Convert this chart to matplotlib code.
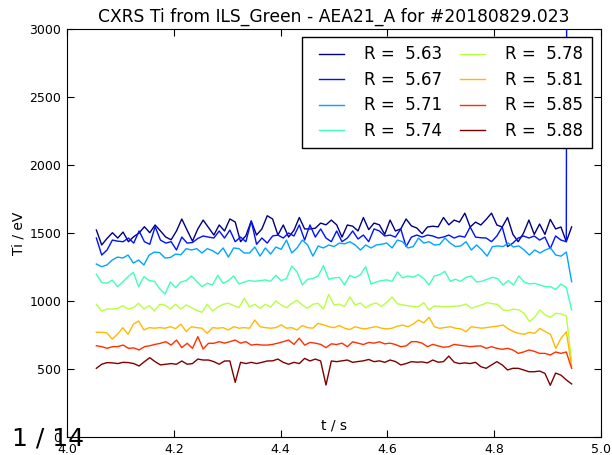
import numpy as np
import matplotlib
matplotlib.use('Agg')
import matplotlib.pyplot as plt
from matplotlib.lines import Line2D
from matplotlib.legend_handler import HandlerLine2D

# time window of the profiles (s)
t_start, t_end = 4.055, 4.945

radii = [5.63, 5.67, 5.71, 5.74, 5.78, 5.81, 5.85, 5.88]

ti_563 = [1522, 1412, 1460, 1502, 1463, 1507, 1436, 1473, 1500, 1546, 1502, 1559, 1515, 1470, 1450, 1515, 1603, 1520, 1440, 1530, 1595, 1540, 1485,
          1559, 1515, 1603, 1581, 1436, 1480, 1588, 1485, 1530, 1627, 1603, 1485, 1559, 1470, 1520, 1614, 1530, 1530, 1535, 1573, 1560, 1595,
          1560, 1470, 1559, 1550, 1515, 1614, 1525, 1573, 1560, 1490, 1595, 1515, 1530, 1603, 1552, 1537, 1495, 1544, 1550, 1545, 1614, 1560,
          1595, 1580, 1646, 1544, 1580, 1559, 1600, 1646, 1559, 1544, 1614, 1490, 1436, 1500, 1595, 1490, 1566, 1490, 1600, 1530, 1544, 1436, 1545]
ti_567 = [1463, 1338, 1375, 1448, 1440, 1436, 1463, 1426, 1515, 1436, 1417, 1546, 1448, 1426, 1436, 1375, 1470, 1426, 1430, 1460, 1478, 1470, 1463,
          1515, 1463, 1522, 1436, 1470, 1436, 1588, 1417, 1463, 1426, 1478, 1485, 1463, 1500, 1478, 1559, 1448, 1559, 1470, 1530, 1463, 1436,
          1515, 1436, 1463, 1515, 1456, 1485, 1436, 1530, 1515, 1478, 1485, 1470, 1530, 1400, 1470, 1485, 1470, 1485, 1478, 1463, 1470, 1485,
          1463, 1478, 1470, 1544, 1470, 1465, 1463, 1436, 1478, 1544, 1400, 1426, 1463, 1478, 1463, 1478, 1448, 1470, 1385, 1478, 1448, 1436, 25000]
ti_571 = [1272, 1252, 1265, 1301, 1323, 1316, 1338, 1279, 1301, 1265, 1338, 1360, 1355, 1316, 1320, 1345, 1340, 1385, 1375, 1385, 1353, 1385, 1370,
          1345, 1390, 1323, 1390, 1385, 1353, 1353, 1397, 1330, 1390, 1345, 1397, 1380, 1448, 1353, 1390, 1448, 1412, 1330, 1404, 1390, 1412,
          1400, 1426, 1420, 1436, 1412, 1375, 1412, 1390, 1412, 1417, 1426, 1390, 1448, 1436, 1390, 1400, 1463, 1426, 1436, 1412, 1415, 1463,
          1426, 1400, 1405, 1436, 1375, 1412, 1375, 1330, 1400, 1405, 1400, 1426, 1397, 1405, 1375, 1338, 1375, 1353, 1375, 1390, 1338, 1330, 1360, 1142]
ti_574 = [1196, 1137, 1130, 1154, 1105, 1140, 1179, 1211, 1105, 1179, 1150, 1145, 1090, 1051, 1140, 1098, 1140, 1150, 1184, 1143, 1105, 1130, 1118,
          1189, 1130, 1150, 1184, 1125, 1140, 1150, 1145, 1150, 1155, 1145, 1189, 1150, 1165, 1257, 1213, 1118, 1160, 1165, 1184, 1260, 1160,
          1170, 1174, 1118, 1189, 1170, 1194, 1252, 1125, 1140, 1150, 1155, 1145, 1213, 1170, 1184, 1175, 1194, 1165, 1118, 1184, 1194, 1218,
          1145, 1160, 1145, 1174, 1184, 1140, 1145, 1160, 1174, 1165, 1118, 1150, 1118, 1184, 1140, 1125, 1130, 1118, 1105, 1105, 1085, 1125, 1098, 934]
ti_578 = [976, 926, 941, 941, 945, 966, 941, 950, 983, 941, 966, 926, 976, 970, 941, 976, 941, 971, 951, 930, 917, 976, 926,
          956, 976, 983, 966, 951, 1020, 956, 976, 946, 976, 956, 1000, 971, 951, 983, 1005, 971, 946, 976, 983, 941, 1049, 971,
          976, 960, 1030, 970, 985, 950, 975, 985, 960, 990, 1030, 980,
          971, 965, 960, 958, 988, 934, 965, 960, 958, 960, 962, 965, 978, 946, 960, 971, 988, 980, 975, 934,
          930, 940, 935, 910, 848, 880, 934, 897, 880, 910, 905, 890, 560]
ti_581 = [770, 770, 765, 720, 755, 804, 755, 829, 853, 787, 804, 800, 804, 800, 811, 797, 829, 776, 811, 804, 800, 762, 804,
          800, 804, 787, 811, 800, 804, 800, 860, 811, 804, 800, 804, 825, 800, 804, 787, 820, 804, 800, 836, 825, 811, 804,
          820, 800, 790, 811, 800, 795, 805, 811, 800, 795, 800, 815,
          823, 811, 830, 860, 840, 880, 811, 799, 805, 811, 800, 795, 774, 811, 805, 800, 805, 811, 815, 823,
          795, 774, 762, 755, 770, 762, 799, 775, 755, 652, 726, 774, 520]
ti_585 = [671, 664, 652, 664, 665, 676, 652, 655, 640, 664, 671, 681, 689, 701, 676, 713, 657, 689, 652, 738, 647,
          689, 689, 701, 690, 701, 713, 690, 701, 676, 681, 676, 676, 681, 690, 701, 713, 681, 726, 676, 695, 690, 681, 657, 685,
          680, 690, 664, 700, 690, 680, 695, 690, 700, 685, 690, 680,
          664, 670, 701, 701, 690, 664, 681, 670, 660, 664, 681, 675, 670, 664, 668, 670, 652, 664, 652, 645,
          652, 640, 615, 625, 640, 630, 615, 615, 603, 625, 615, 625, 505]
ti_588 = [505, 535, 547, 545, 540, 549, 547, 540, 522, 554, 583, 554, 530, 535, 540, 535, 559, 535, 540, 573, 566,
          566, 554, 535, 559, 559, 402, 549, 540, 549, 540, 549, 559, 560, 573, 549, 535, 549, 540, 578, 559, 573, 559, 382, 559,
          554, 560, 566, 549, 555, 560, 570, 554, 560, 549, 566, 555,
          530, 540, 554, 550, 552, 545, 566, 550, 554, 595, 550, 540, 545, 540, 549, 517, 505, 530, 554, 530,
          493, 505, 505, 493, 480, 480, 485, 468, 380, 470, 455, 420, 390]

series = [ti_563, ti_567, ti_571, ti_574, ti_578, ti_581, ti_585, ti_588]
colors = plt.cm.jet(np.linspace(0, 1, len(series)))

fig = plt.figure(figsize=(6.12, 4.55), dpi=100)
ax = fig.add_axes([67/612, 1 - 437/455, 534/612, 408/455])

for r, y, c in zip(radii, series, colors):
    t = np.linspace(t_start, t_end, len(y))
    ax.plot(t, y, color=c, lw=1.0, label='R =  %.2f' % r)

ax.set_xlim(4.0, 5.0)
ax.set_ylim(0, 3000)
ax.set_xticks([4.0, 4.2, 4.4, 4.6, 4.8, 5.0])
ax.set_yticks(range(0, 3001, 500))
ax.tick_params(direction='in', top=True, right=True, labelsize=9, length=5, pad=4)

ax.set_title('CXRS Ti from ILS_Green - AEA21_A for #20180829.023', fontsize=12.3, pad=5)
ax.set_ylabel('Ti / eV', fontsize=10, labelpad=3)
ax.text(0.5, 0.012, 't / s', transform=ax.transAxes, ha='center', va='bottom', fontsize=10)

# old-style legend: short line with some room on its left
leg = ax.legend(loc='upper right', ncol=2, fontsize=12, handlelength=2.0,
                handletextpad=1.2, columnspacing=0.6, labelspacing=0.45,
                borderpad=0.5, borderaxespad=0, fancybox=False, framealpha=1,
                bbox_to_anchor=(0.983, 0.980),
                handler_map={Line2D: HandlerLine2D(xpad=0.5)})
leg.get_frame().set_edgecolor('black')

fig.text(12/612, 1 - 446/455, '1 / 14', fontsize=18, ha='left', va='baseline')

fig.savefig('out.png', dpi=100)
